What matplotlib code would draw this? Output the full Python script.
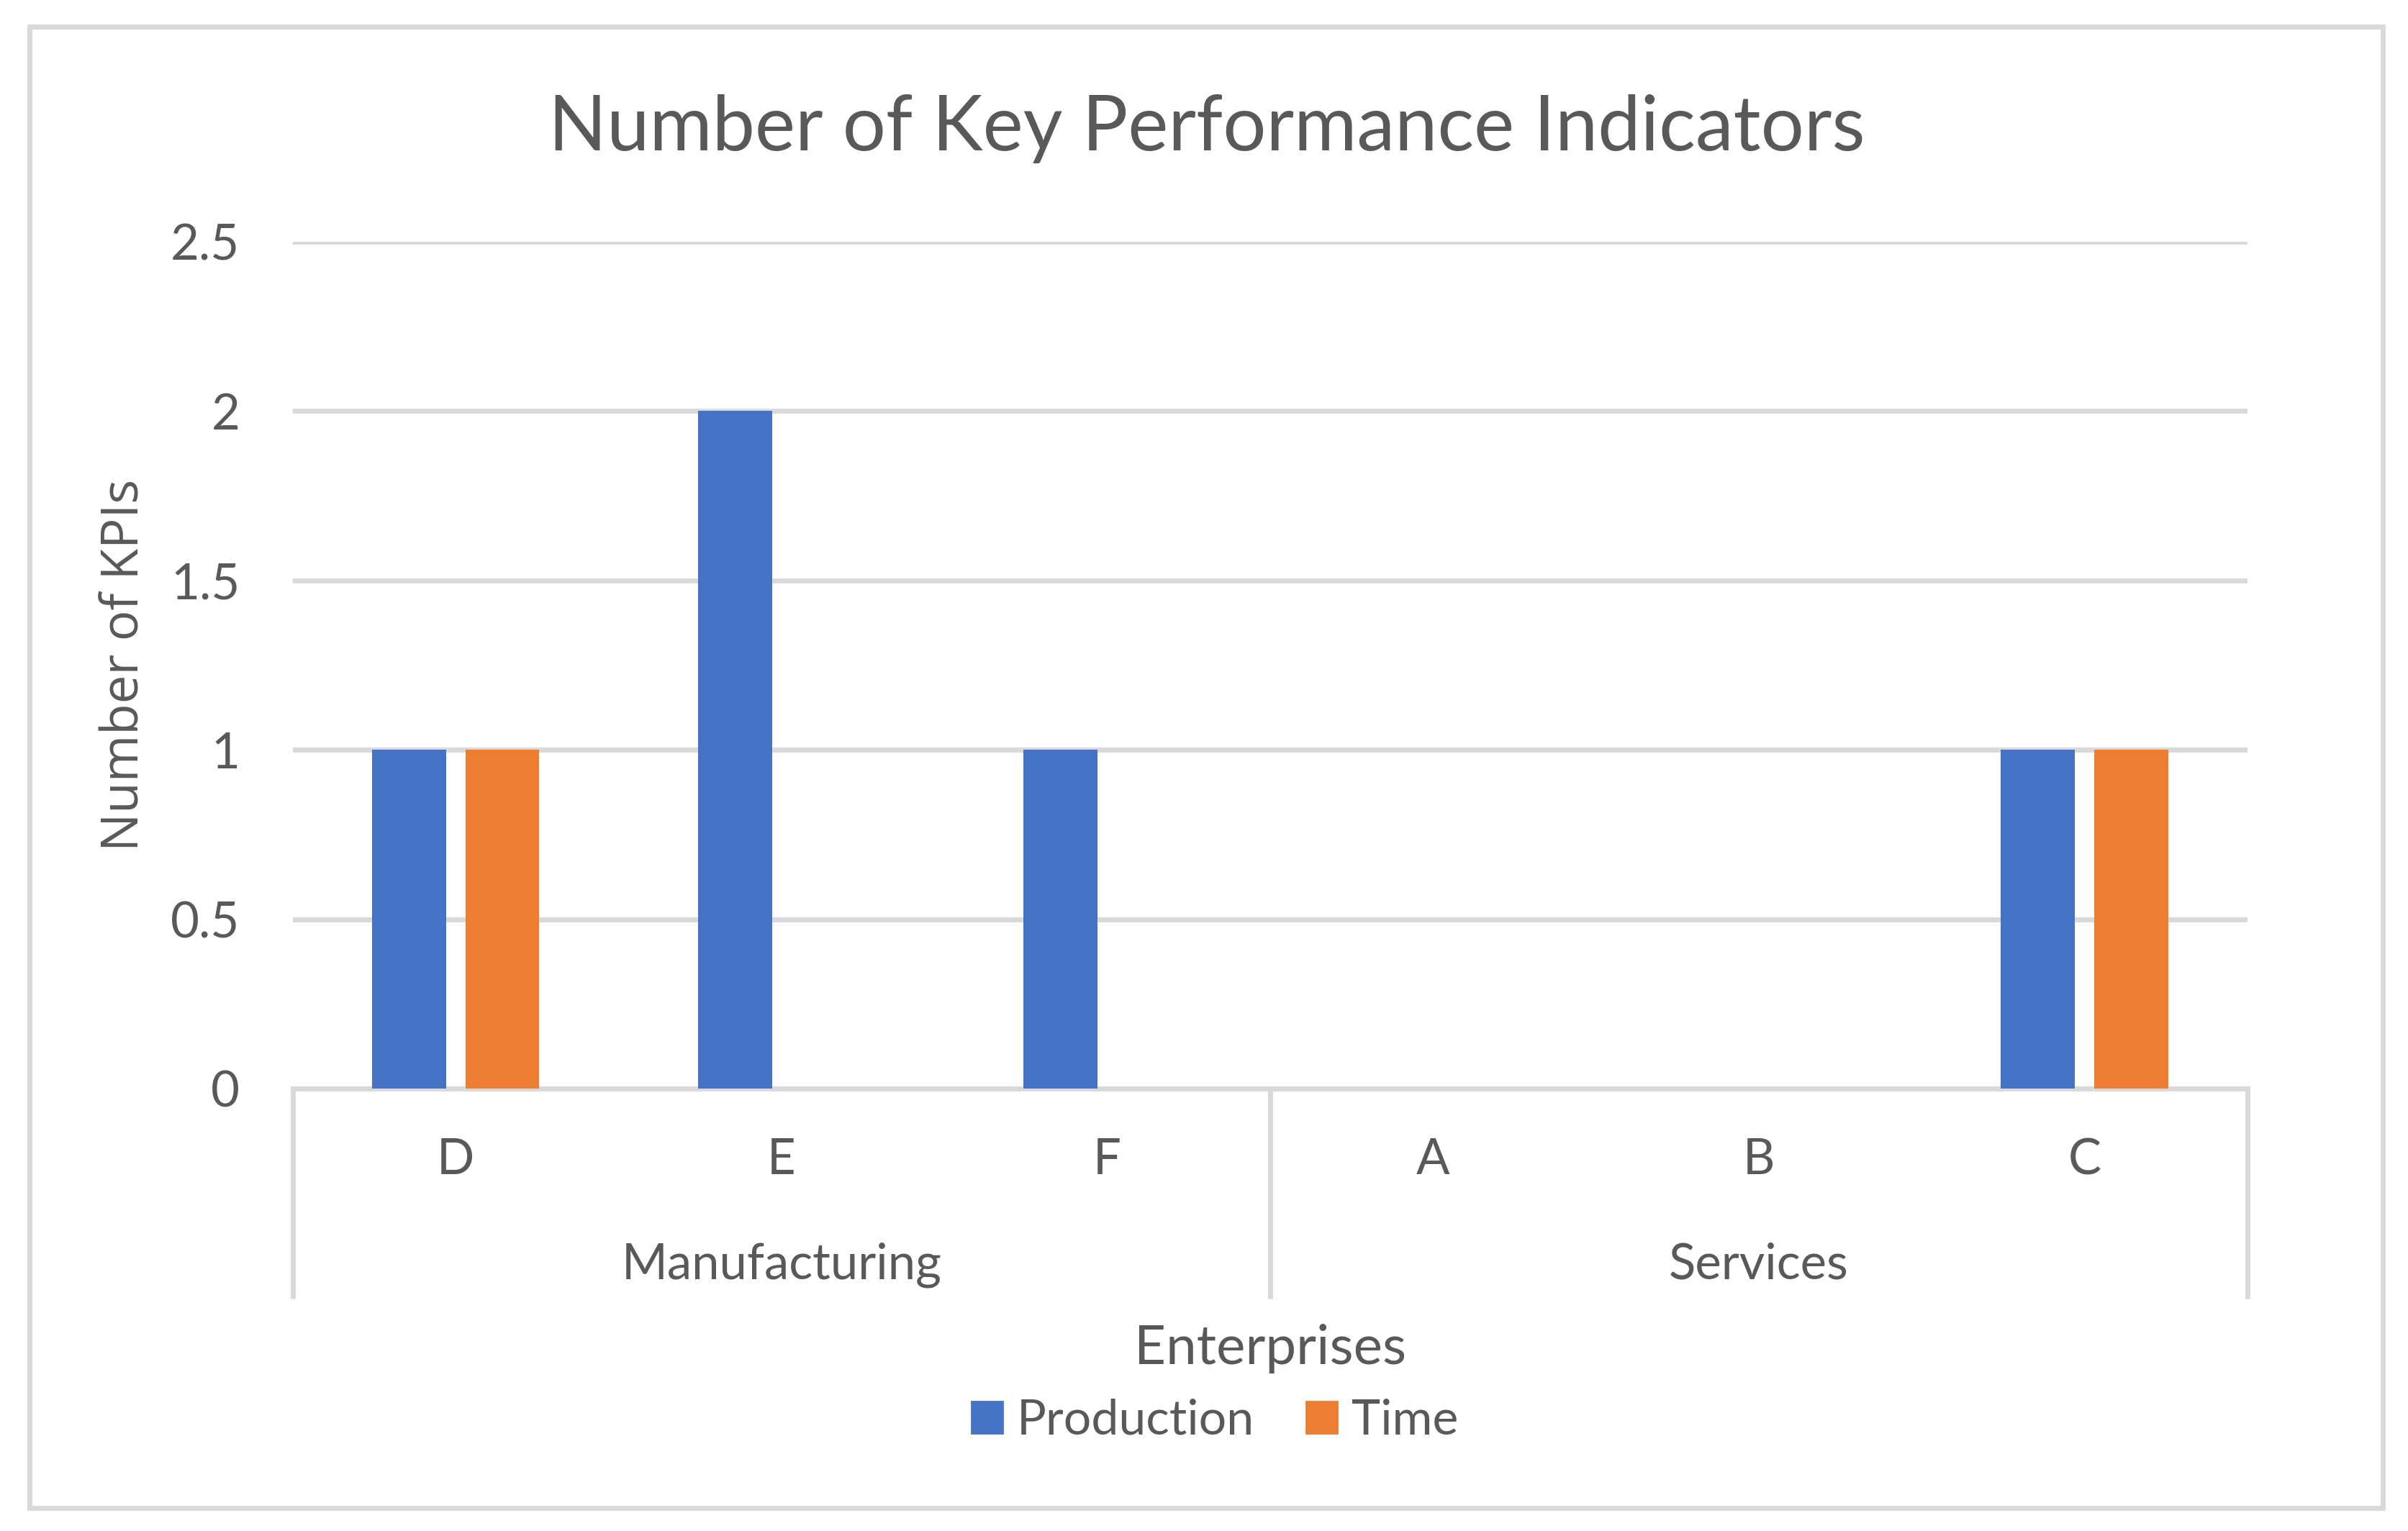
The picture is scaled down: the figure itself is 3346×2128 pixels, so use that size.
import numpy as np
import matplotlib
matplotlib.use("Agg")
import matplotlib.pyplot as plt
from matplotlib.patches import Rectangle, Patch
import matplotlib.transforms as mtransforms

# data
enterprises = ['D', 'E', 'F', 'A', 'B', 'C']
sectors = ['Manufacturing', 'Services']
sector_sizes = [3, 3]
production = [1, 2, 1, 0, 0, 1]
time_kpi = [1, 0, 0, 0, 0, 1]

blue = '#4472C4'
orange = '#ED7D31'
grey = '#D9D9D9'
txt = '#595959'

plt.rcParams['font.family'] = ['Lato', 'DejaVu Sans']

fig = plt.figure(figsize=(16.73, 10.64), dpi=200)
ax = fig.add_axes([0.1216, 0.2890, 0.8117, 0.5531])

x = np.arange(len(enterprises))
w = 0.227
off = 0.143
ax.bar(x - off, production, w, color=blue, label='Production', zorder=3)
ax.bar(x + off, time_kpi, w, color=orange, label='Time', zorder=3)

ax.set_xlim(-0.5, len(enterprises) - 0.5)
ax.set_ylim(0, 2.5)
ax.set_yticks([0, 0.5, 1, 1.5, 2, 2.5])
ax.set_yticklabels(['0', '0.5', '1', '1.5', '2', '2.5'])
ax.set_xticks(x)
ax.set_xticklabels(enterprises)
ax.tick_params(axis='y', length=0, pad=26.5, labelsize=24.8, labelcolor=txt)
ax.tick_params(axis='x', length=0, pad=24.5, labelsize=24.8, labelcolor=txt)

ax.yaxis.grid(True, color=grey, linewidth=2.5, zorder=0)
ax.set_axisbelow(True)
for s in ['top', 'right', 'left']:
    ax.spines[s].set_visible(False)
ax.spines['bottom'].set_color(grey)
ax.spines['bottom'].set_linewidth(2.5)

# group labels and separators
trans = mtransforms.blended_transform_factory(ax.transData, ax.transAxes)
edges = np.concatenate([[0], np.cumsum(sector_sizes)]) - 0.5
ax.vlines(edges, -0.248, 0, transform=trans, colors=grey, linewidth=2.5, clip_on=False)
for i, name in enumerate(sectors):
    mid = (edges[i] + edges[i + 1]) / 2
    ax.text(mid, -0.2251, name, transform=trans, ha='center', va='baseline',
            fontsize=24.8, color=txt)

# titles
fig.text(0.5012, 0.9018, 'Number of Key Performance Indicators', ha='center',
         va='baseline', fontsize=38.2, color=txt)
fig.text(0.5275, 0.1090, 'Enterprises', ha='center', va='baseline',
         fontsize=27.5, color=txt)
fig.text(0.0518, 0.5658, 'Number of KPIs', rotation=90, ha='center', va='center',
         fontsize=25.5, color=txt, family=['Open Sans', 'DejaVu Sans'])

# legend
handles = [Patch(color=blue, label='Production'), Patch(color=orange, label='Time')]
fig.legend(handles=handles, loc='center', bbox_to_anchor=(0.5045, 0.0719), ncol=2,
           frameon=False, fontsize=24.5, labelcolor=txt, handlelength=0.63,
           handleheight=0.62, handletextpad=0.3, columnspacing=1.05,
           borderpad=0, borderaxespad=0)

# chart border
fig.add_artist(Rectangle((0.0124, 0.0150), 0.9771, 0.9678, transform=fig.transFigure,
                         fill=False, edgecolor=grey, linewidth=2.5))

fig.savefig('out.png', dpi=200, facecolor='white')
